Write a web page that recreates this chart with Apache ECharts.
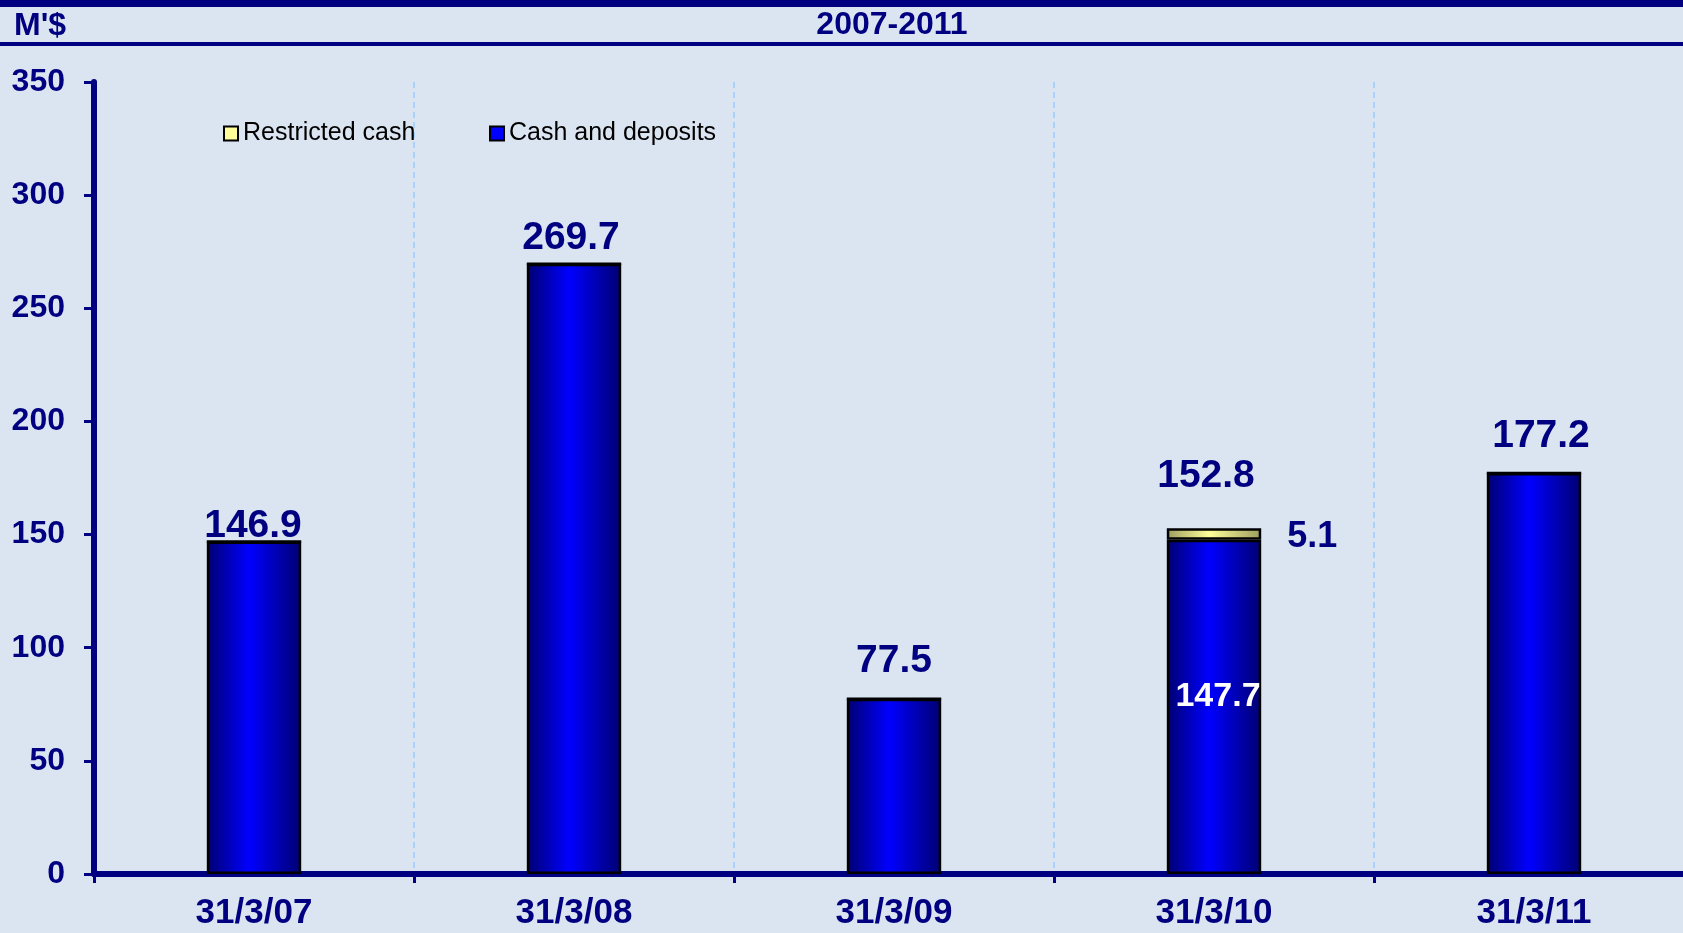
<!DOCTYPE html>
<html>
<head>
<meta charset="utf-8">
<script src="https://cdn.jsdelivr.net/npm/echarts@6/dist/echarts.min.js"></script>
<style>
html,body{margin:0;padding:0;background:#DBE5F1;}
#chart{width:1683px;height:933px;}
</style>
</head>
<body>
<div id="chart"></div>
<script>
var categories = ['31/3/07', '31/3/08', '31/3/09', '31/3/10', '31/3/11'];
var cashAndDeposits = [146.9, 269.7, 77.5, 147.7, 177.2];
var restrictedCash = [0, 0, 0, 5.1, 0];
var yTicks = [0, 50, 100, 150, 200, 250, 300, 350];

var totals = categories.map(function (c, i) { return +(cashAndDeposits[i] + restrictedCash[i]).toFixed(1); });
var totalLabelGap = [0, 10, 22, 37, 22];
var totalLabelShiftX = [-1, -3, 0, -8, 7];

var NAVY = '#000080';
var FONT = '"Liberation Sans", Arial, sans-serif';

var chart = echarts.init(document.getElementById('chart'));

var option = {
  backgroundColor: '#DBE5F1',
  animation: false,
  graphic: [
    { type: 'rect', left: 0, top: 0, shape: { width: 1683, height: 7 }, style: { fill: NAVY } },
    { type: 'rect', left: 0, top: 42, shape: { width: 1683, height: 4 }, style: { fill: NAVY } },
    { type: 'text', left: 14, top: 10, style: { text: "M'$", fill: NAVY, font: 'bold 32px ' + FONT } },
    { type: 'text', x: 892, y: 25, style: { text: '2007-2011', fill: NAVY, font: 'bold 32px ' + FONT, align: 'center', verticalAlign: 'middle' } }
  ],
  legend: [
    {
      left: 218, top: 116, itemWidth: 14, itemHeight: 14, icon: 'rect',
      textStyle: { color: '#000', fontSize: 25, fontFamily: FONT },
      data: [{ name: 'Restricted cash', itemStyle: { color: '#FFFF99', borderColor: '#000', borderWidth: 2 } }]
    },
    {
      left: 484, top: 116, itemWidth: 14, itemHeight: 14, icon: 'rect',
      textStyle: { color: '#000', fontSize: 25, fontFamily: FONT },
      data: [{ name: 'Cash and deposits', itemStyle: { color: '#0000FF', borderColor: '#000', borderWidth: 2 } }]
    }
  ],
  grid: { left: 94, top: 82, width: 1600, height: 792, outerBoundsMode: 'none', containLabel: false },
  xAxis: {
    type: 'category',
    data: categories,
    boundaryGap: true,
    axisLine: { lineStyle: { color: NAVY, width: 6 } },
    axisTick: { show: true, length: 9, lineStyle: { color: NAVY, width: 3 } },
    axisLabel: { color: NAVY, fontSize: 35, fontWeight: 'bold', fontFamily: FONT, margin: 22, interval: 0 },
    splitLine: { show: true, lineStyle: { color: '#99CCFF', width: 1.5, type: [6, 4] } }
  },
  yAxis: {
    type: 'value',
    min: yTicks[0],
    max: yTicks[yTicks.length - 1],
    interval: yTicks[1] - yTicks[0],
    axisLine: { show: true, lineStyle: { color: NAVY, width: 6 } },
    axisTick: { show: true, length: 10, lineStyle: { color: NAVY, width: 3 } },
    axisLabel: { color: NAVY, fontSize: 32, fontWeight: 'bold', fontFamily: FONT, margin: 29 },
    splitLine: { show: false }
  },
  series: [
    {
      name: 'Cash and deposits',
      type: 'bar',
      stack: 'cash',
      barWidth: '29.5%',
      itemStyle: {
        borderColor: '#000', borderWidth: 2.5,
        color: { type: 'linear', x: 0, y: 0, x2: 1, y2: 0, colorStops: [
          { offset: 0, color: '#000070' }, { offset: 0.45, color: '#0000FF' }, { offset: 1, color: '#000070' }
        ] }
      },
      label: {
        show: true, position: 'inside', offset: [4, -10],
        color: '#FFFFFF', fontSize: 34, fontWeight: 'bold', fontFamily: FONT,
        formatter: function (p) { return restrictedCash[p.dataIndex] > 0 ? p.value.toFixed(1) : ''; }
      },
      data: cashAndDeposits
    },
    {
      name: 'Restricted cash',
      type: 'bar',
      stack: 'cash',
      barWidth: '29.5%',
      itemStyle: {
        borderColor: '#000', borderWidth: 2.5,
        color: { type: 'linear', x: 0, y: 0, x2: 1, y2: 0, colorStops: [
          { offset: 0, color: '#9C9C60' }, { offset: 0.45, color: '#FFFF99' }, { offset: 1, color: '#9C9C60' }
        ] }
      },
      label: {
        show: true, position: 'right', distance: 26, offset: [0, 3],
        color: NAVY, fontSize: 36, fontWeight: 'bold', fontFamily: FONT,
        formatter: function (p) { return p.value > 0 ? p.value.toFixed(1) : ''; }
      },
      data: restrictedCash
    },
    {
      name: 'Total',
      type: 'scatter',
      silent: true,
      symbol: 'circle',
      symbolSize: 1,
      itemStyle: { color: 'rgba(0,0,0,0)', opacity: 1 },
      z: 10,
      label: {
        show: true, position: 'top',
        color: NAVY, fontSize: 39, fontWeight: 'bold', fontFamily: FONT,
        formatter: function (p) { return p.value.toFixed(1); }
      },
      data: totals.map(function (v, i) {
        return { value: v, label: { distance: totalLabelGap[i], offset: [totalLabelShiftX[i], 5] } };
      })
    }
  ]
};
chart.setOption(option);
</script>
</body>
</html>
